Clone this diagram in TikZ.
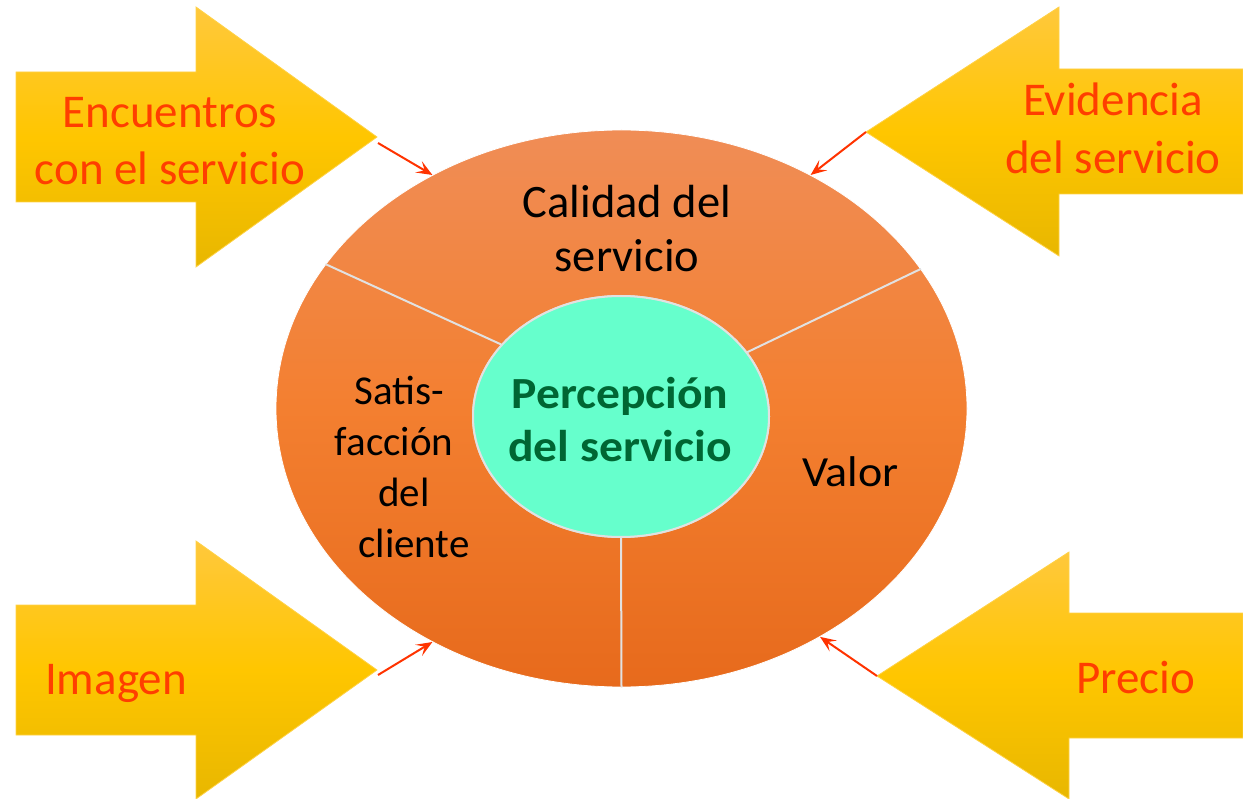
\documentclass[tikz,border=0pt]{standalone}
\usepackage{fontspec}
\setmainfont{Carlito}
\newfontfamily\widefont[FakeStretch=1.07]{Carlito}
\usetikzlibrary{shapes.geometric,arrows.meta}
\definecolor{ringtop}{RGB}{240,141,86}
\definecolor{ringmid}{RGB}{243,127,48}
\definecolor{ringbot}{RGB}{231,106,28}
\definecolor{yeltop}{RGB}{255,200,60}
\definecolor{yelmid}{RGB}{255,198,0}
\definecolor{yelbot}{RGB}{232,183,0}
\definecolor{yeledge}{RGB}{255,210,70}
\definecolor{labred}{RGB}{255,62,0}
\definecolor{arrred}{RGB}{255,51,0}
\definecolor{core}{RGB}{102,255,204}
\definecolor{coretext}{RGB}{0,102,51}
\definecolor{divgrey}{RGB}{225,225,225}
\begin{document}
\begin{tikzpicture}[x=1pt,y=-1pt,
  bigarrow/.style={top color=yeltop,bottom color=yelbot,middle color=yelmid,draw=yeledge,line width=0.8pt},
  outerring/.style={ellipse,inner sep=0pt,minimum width=691pt,minimum height=557pt,top color=ringtop,bottom color=ringbot,middle color=ringmid,draw=white,line width=0.8pt},
  innercore/.style={ellipse,inner sep=0pt,minimum width=296pt,minimum height=241pt,fill=core,draw=divgrey,line width=2pt},
  divider/.style={draw=divgrey,line width=2pt},
  pointer/.style={draw=arrred,line width=2pt,-{Stealth[length=16pt,width=13pt,inset=7pt]}},
  arrlabel/.style={anchor=base,inner sep=0pt,text=labred,font=\fontsize{47}{57}\selectfont},
  ringlabel/.style={anchor=base,inner sep=0pt,text=black},
]
\useasboundingbox (0,0) rectangle (1243,799);

% big yellow arrows
\path[bigarrow] (16,72) -- (196,72) -- (196,7) -- (377,137) -- (196,267) -- (196,202) -- (16,202) -- cycle;
\path[bigarrow] (1243,69) -- (1059,69) -- (1059,7) -- (866,132) -- (1059,256) -- (1059,194) -- (1243,194) -- cycle;
\path[bigarrow] (16,605) -- (196,605) -- (196,541) -- (377,670) -- (196,799) -- (196,735) -- (16,735) -- cycle;
\path[bigarrow] (1243,613) -- (1069,613) -- (1069,552) -- (877,676) -- (1069,799) -- (1069,738) -- (1243,738) -- cycle;

\coordinate (tlTip) at (378,143);
\coordinate (trTip) at (866,132);
\coordinate (blTip) at (378,675);
\coordinate (brTip) at (877,676);

% labels of the yellow arrows
\node[arrlabel] (encuentros) at (170,128) {\begin{tabular}[t]{@{}c@{}}Encuentros\\con el servicio\end{tabular}};
\node[arrlabel,font=\fontsize{47}{58}\selectfont] (evidencia) at (1113,116) {\begin{tabular}[t]{@{}c@{}}Evidencia\\del servicio\end{tabular}};
\node[arrlabel] (imagen) at (116,694) {Imagen};
\node[arrlabel] (precio) at (1135.5,693) {Precio};

% outer ring
\node[outerring] (outer) at (621.5,408.5) {};
\node[innercore] (core) at (621,416.5) {};
\draw[divider] (outer.154.4) -- (core.149.2);
\draw[divider] (outer.25.5) -- (core.27.3);
\draw[divider] (outer.270) -- (core.270);
\node[innercore] (core2) at (621,416.5) {};

% ring labels
\node[ringlabel,font=\fontsize{46.5}{54}\selectfont] (calidad) at (627,218) {\begin{tabular}[t]{@{}c@{}}Calidad del\\servicio\end{tabular}};
\node[ringlabel,font=\fontsize{41}{51}\selectfont] (satis) at (404,405) {\begin{tabular}[t]{@{}c@{}}Satis-\hspace*{10pt}\\facción\hspace*{20pt}\\del\\\hspace*{20pt}cliente\end{tabular}};
\node[ringlabel,font=\widefont\fontsize{43}{52}\selectfont] (valor) at (850.5,487) {Valor};
\node[ringlabel,text=coretext,font=\widefont\bfseries\fontsize{44.5}{53}\selectfont] (percepcion) at (620,409) {\begin{tabular}[t]{@{}c@{}}Percepción\\del servicio\end{tabular}};

% red pointers
\draw[pointer] (tlTip) -- (outer.129);
\draw[pointer] (trTip) -- (outer.51);
\draw[pointer] (blTip) -- (outer.231);
\draw[pointer] (brTip) -- (outer.311.8);
\end{tikzpicture}
\end{document}
